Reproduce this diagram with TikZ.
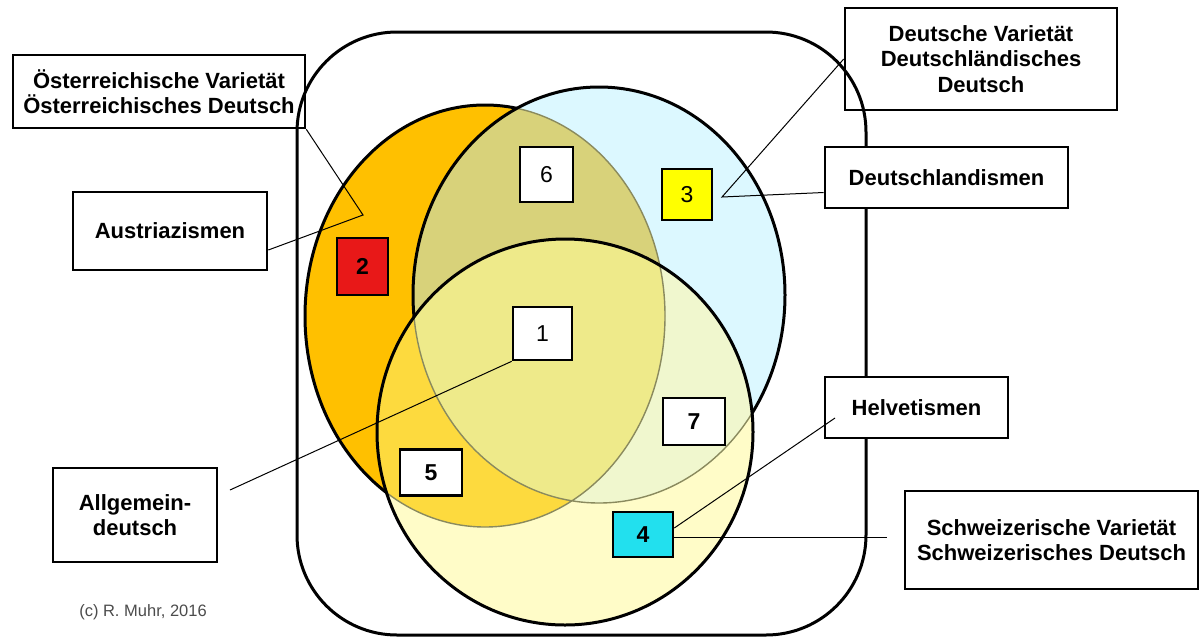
\documentclass[tikz,border=0pt]{standalone}
\usepackage{fontspec}
\setmainfont{Liberation Sans}

\definecolor{atorange}{HTML}{FFC000}
\definecolor{delight}{HTML}{DCF8FF}
\definecolor{atde}{HTML}{D8D27A}
\definecolor{chcream}{HTML}{FFFCC8}
\definecolor{atch}{HTML}{FDDA3E}
\definecolor{dech}{HTML}{F0F7CE}
\definecolor{allde}{HTML}{EEEA8A}
\definecolor{rimgrey}{HTML}{8A8A5E}
\definecolor{boxred}{HTML}{E81818}
\definecolor{boxyellow}{HTML}{FFFF00}
\definecolor{boxcyan}{HTML}{22E0EE}

\newcommand{\ellAT}{(485,316) ellipse [x radius=180, y radius=211]}
\newcommand{\ellDE}{(599,295) ellipse [x radius=186, y radius=208]}
\newcommand{\ellCH}{(565,432) ellipse [x radius=188, y radius=193]}

\begin{document}
\begin{tikzpicture}[x=1pt, y=-1pt,
  rim/.style={line width=3pt},
  thinrim/.style={line width=1.4pt, rimgrey},
  lbl/.style={draw, line width=2.6pt, align=center, inner sep=2pt,
    font=\bfseries\fontsize{22}{25.5}\selectfont},
  num/.style={draw, line width=2.6pt, fill=white, inner sep=0pt,
    font=\fontsize{23}{26}\selectfont},
  bnum/.style={num, font=\bfseries\fontsize{23}{26}\selectfont},
  pin/.style={line width=1pt}]

  \useasboundingbox (0,0) rectangle (1202,638);
  \fill[white] (0,0) rectangle (1202,638);

  % frame
  \draw[rim, rounded corners=100pt] (297,32) rectangle (866,635);

  % Austria
  \fill[atorange] \ellAT;
  \draw[rim] \ellAT;
  % Germany
  \fill[delight] \ellDE;
  \begin{scope}
    \clip \ellAT;
    \fill[atde] \ellDE;
  \end{scope}
  \begin{scope}
    \clip \ellDE;
    \draw[thinrim] \ellAT;
  \end{scope}
  \draw[rim] \ellDE;
  % Switzerland
  \fill[chcream] \ellCH;
  \begin{scope}
    \clip \ellDE;
    \fill[dech] \ellCH;
  \end{scope}
  \begin{scope}
    \clip \ellAT;
    \fill[atch] \ellCH;
    \clip \ellDE;
    \fill[allde] \ellCH;
  \end{scope}
  \begin{scope}
    \clip \ellCH;
    \draw[thinrim] \ellAT \ellDE;
  \end{scope}
  \draw[rim] \ellCH;

  % numbered areas
  \node[num, minimum width=59pt, minimum height=53pt] (n1) at (542.5,333.5) {1};
  \node[bnum, fill=boxred, minimum width=51pt, minimum height=57pt] (n2) at (362.5,266.5) {2};
  \node[num, fill=boxyellow, minimum width=50pt, minimum height=51pt] (n3) at (687,194.5) {3};
  \node[bnum, fill=boxcyan, minimum width=60pt, minimum height=45pt] (n4) at (643,534.5) {4};
  \node[bnum, minimum width=62pt, minimum height=46pt] (n5) at (431,472.5) {5};
  \node[num, minimum width=53pt, minimum height=55pt] (n6) at (546.5,174.5) {6};
  \node[bnum, minimum width=62pt, minimum height=47pt] (n7) at (694,421.5) {7};

  % labels
  \node[lbl, minimum width=292pt, minimum height=73pt] (oest) at (159,91.5)
    {Österreichische Varietät\\Österreichisches Deutsch};
  \node[lbl, fill=white, minimum width=194pt, minimum height=78pt] (austria) at (170,231) {Austriazismen};
  \node[lbl, minimum width=272pt, minimum height=102pt] (devar) at (981,59)
    {Deutsche Varietät\\Deutschländisches\\Deutsch};
  \node[lbl, fill=white, minimum width=243pt, minimum height=61pt] (dland) at (946.5,177.5) {Deutschlandismen};
  \node[lbl, fill=white, minimum width=183pt, minimum height=61pt] (helv) at (916.5,407.5) {Helvetismen};
  \node[lbl, fill=white, minimum width=293pt, minimum height=98pt] (chvar) at (1051.5,540)
    {Schweizerische Varietät\\Schweizerisches Deutsch};
  \node[lbl, fill=white, minimum width=164pt, minimum height=94pt] (allg) at (135,515) {Allgemein-\\deutsch};
  \node[text=black!70, font=\fontsize{16.5}{19}\selectfont] (copy) at (143,612) {(c) R. Muhr, 2016};

  % pointers
  \coordinate (atpt) at (363,215);
  \coordinate (dept) at (722,197);
  \coordinate (helvend) at (835,418);
  \coordinate (chend) at (887,537);
  \coordinate (allgend) at (230,490);
  \draw[pin] (oest.south east) -- (atpt) -- ([yshift=-19pt]austria.east);
  \draw[pin] (devar.west) -- (dept) -- ([yshift=-15pt]dland.west);
  \draw[pin] (helvend) -- ([yshift=6.5pt]n4.east);
  \draw[pin] ([yshift=-2.5pt]n4.east) -- (chend);
  \draw[pin] (allgend) -- (n1.south west);
\end{tikzpicture}
\end{document}
